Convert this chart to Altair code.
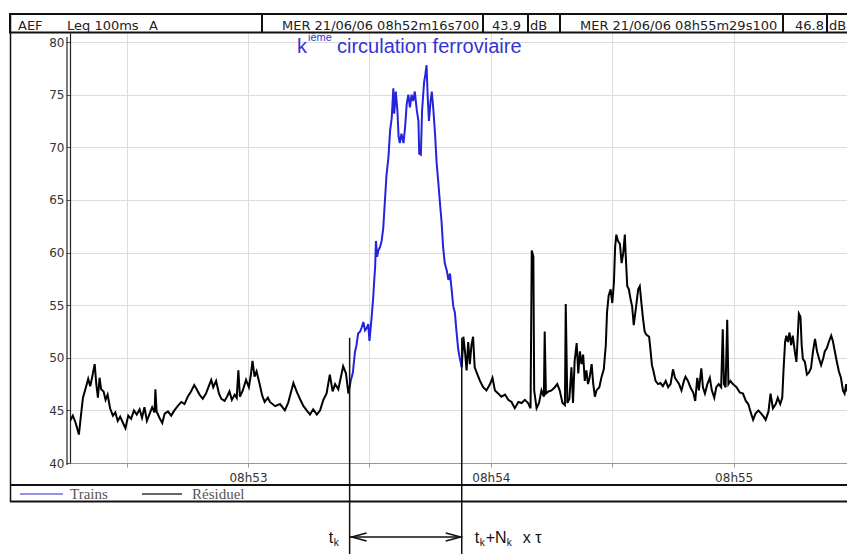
import altair as alt
import pandas as pd

# ---- data (time in seconds after 08h52m00s, level in dB(A)) ----
res1_t = [16.0, 16.7, 17.4, 18.2, 18.7, 19.2, 19.8, 20.5, 21.0, 21.5, 22.1, 22.5, 22.9, 23.3, 23.7,
          24.3, 24.8, 25.3, 25.9, 26.6, 27.2, 27.8, 28.4, 29.1, 29.7, 30.4, 31.1, 31.8, 32.5, 33.2,
          33.8, 34.4, 35.0, 35.6, 36.3, 36.9, 37.1, 37.4, 38.1, 38.8, 39.4, 40.2, 41.0, 41.8, 42.6,
          43.5, 44.3, 45.1, 45.9, 46.7, 47.3, 48.0, 48.8, 49.6, 50.3, 50.9, 51.4, 52.1, 52.8, 53.4,
          54.2, 54.8, 55.4, 56.0, 56.7, 57.2, 57.6, 58.0, 58.7, 59.5, 60.2, 60.7, 61.1, 61.6, 62.1,
          62.8, 63.5, 64.1, 64.9, 65.4, 66.7, 67.9, 69.1, 69.9, 71.2, 72.0, 72.8, 73.7, 74.5, 75.3,
          76.1, 77.0, 77.8, 78.6, 79.4, 80.2, 80.9, 81.5, 82.3, 82.9, 83.5, 84.2, 84.8, 85.3]
res1_db = [44.0, 44.5, 43.8, 42.7, 44.5, 46.2, 47.0, 48.0, 47.3, 48.2, 49.4, 47.5, 46.2, 48.1, 47.0,
           46.8, 46.0, 46.5, 45.2, 44.5, 44.8, 44.0, 44.4, 43.8, 43.3, 44.5, 44.2, 45.0, 44.6, 45.1,
           44.3, 45.3, 44.0, 44.6, 45.3, 44.8, 47.0, 44.9, 44.3, 43.8, 44.7, 44.9, 44.5, 45.0, 45.4,
           45.8, 45.6, 46.3, 46.8, 47.4, 47.0, 46.5, 46.1, 46.6, 47.3, 47.9, 47.2, 47.8, 46.6, 46.1,
           45.9, 46.3, 46.8, 46.0, 46.5, 46.2, 48.8, 46.3, 46.9, 47.9, 47.2, 48.4, 49.7, 48.2, 48.7,
           47.6, 46.4, 45.8, 46.2, 45.8, 45.4, 45.6, 45.0, 45.7, 47.6, 46.8, 46.1, 45.4, 45.0, 44.6,
           45.1, 44.6, 45.0, 46.0, 46.6, 48.4, 46.8, 47.5, 47.0, 48.1, 49.2, 48.5, 46.6, 47.7]

train_t = [85.3, 85.9, 86.4, 86.8, 87.2, 87.7, 88.1, 88.5, 88.9, 89.3, 89.7, 90.0, 90.5, 90.9, 91.2,
           91.4, 91.6, 91.9, 92.2, 92.6, 93.0, 93.4, 93.8, 94.2, 94.7, 95.1, 95.5, 95.9, 96.1, 96.3,
           96.5, 96.9, 97.2, 97.5, 97.9, 98.4, 98.8, 99.2, 99.6, 100.0, 100.4, 100.8, 101.2, 101.7,
           102.1, 102.3, 102.7, 103.0, 103.5, 103.8, 104.1, 104.4, 104.7, 105.1, 105.4, 105.8, 106.2,
           106.6, 107.0, 107.4, 107.8, 108.2, 108.6, 109.1, 109.5, 109.9, 110.3, 110.7, 111.1, 111.5,
           111.9, 112.3, 112.8]
train_db = [47.7, 48.6, 50.5, 51.2, 52.3, 52.5, 52.9, 53.4, 52.6, 52.8, 53.2, 51.6, 53.7, 55.6, 57.5,
            58.6, 61.1, 59.6, 60.2, 60.5, 61.1, 62.3, 64.8, 67.3, 69.1, 71.6, 72.8, 75.6, 73.2, 74.1,
            75.3, 73.5, 71.0, 70.4, 71.3, 70.4, 71.9, 74.1, 75.0, 73.8, 75.0, 74.4, 75.3, 73.5,
            72.5, 69.4, 69.3, 73.5, 76.2, 76.9, 77.8, 74.7, 72.5, 74.4, 75.3, 73.5, 71.3,
            68.5, 66.7, 64.8, 63.0, 60.5, 59.0, 58.3, 57.4, 58.0, 56.5, 54.9, 54.3, 52.5,
            50.9, 50.0, 49.1]

res2_t = [112.8, 113.2, 113.6, 114.0, 114.4, 114.8, 115.2, 115.6, 116.0, 116.6, 117.3, 118.1, 118.9,
          119.8, 120.4, 121.0, 121.8, 122.6, 123.5, 124.3, 125.1, 125.9, 126.8, 127.6, 128.4, 129.2,
          129.8, 130.1, 130.5, 130.7, 131.3, 131.9, 132.5, 133.1, 133.3, 133.6, 134.2, 135.0, 135.8,
          136.4, 137.0, 137.7, 138.3, 138.5, 138.9, 139.4, 139.9, 140.3, 140.7, 141.2, 141.6, 142.0,
          142.4, 142.8, 143.2, 143.6, 144.0, 144.4, 144.9, 145.3, 145.7, 146.1, 146.8, 147.3, 147.9,
          148.4, 148.7, 149.1, 149.6, 150.0, 150.4, 150.7, 151.0, 151.4, 151.9, 152.3, 152.7, 153.1,
          153.3, 153.7, 154.1, 154.5, 154.9, 155.3, 155.8, 156.4, 156.8, 157.2, 157.6, 158.0, 158.4,
          159.1, 159.4, 159.8, 160.2, 160.7, 161.3, 161.9, 162.5, 163.2, 163.8, 164.4, 165.0, 165.5,
          166.0, 166.5, 167.1, 167.7, 168.1, 168.7, 169.3, 170.0, 170.5, 171.0, 171.4, 172.0, 172.4,
          172.9, 173.5, 174.1, 174.6, 175.2, 175.7, 176.3, 176.9, 177.3, 177.6, 178.0, 178.4, 178.7,
          179.2, 179.8, 180.7, 181.5, 182.3, 183.0, 183.6, 184.3, 184.8, 185.4, 186.1, 186.8, 187.4,
          187.9, 188.6, 189.1, 189.7, 190.4, 190.9, 191.5, 192.0, 192.3, 192.7, 193.0, 193.4, 193.8,
          194.2, 194.6, 195.1, 195.5, 195.8, 196.1, 196.5, 196.8, 197.1, 197.6, 198.1, 198.6, 199.1,
          199.6, 200.1, 200.6, 201.1, 201.6, 202.1, 202.5, 203.0, 203.5, 204.1, 204.5, 205.0, 205.5,
          206.0, 206.5, 207.0, 207.4, 207.8, 208.0]
res2_db = [49.1, 52.0, 50.6, 48.8, 51.5, 49.4, 51.2, 52.0, 49.1, 48.5, 47.8, 47.2, 46.9,
           47.5, 48.1, 46.9, 46.6, 46.3, 46.5, 46.0, 45.8, 45.2, 45.8, 45.7, 46.0, 45.7,
           45.2, 60.2, 59.6, 46.9, 45.2, 45.7, 46.9, 46.3, 52.5, 46.6, 46.8, 46.9, 47.2,
           47.5, 46.9, 45.7, 45.5, 55.1, 45.7, 46.1, 49.1, 45.7, 49.7, 51.4, 48.5, 50.6,
           49.4, 50.3, 47.8, 48.8, 47.5, 48.1, 49.4, 47.5, 46.3, 46.9, 47.2, 48.1, 48.9,
           51.2, 54.3, 55.9, 56.5, 55.2, 57.1, 60.5, 61.7, 61.1, 60.8, 59.0, 59.9, 61.7,
           59.9, 56.8, 56.5, 55.6, 54.9, 53.1, 54.6, 56.5, 56.8, 55.2, 53.7, 52.5, 52.2,
           52.0, 50.9, 49.3, 48.7, 47.8, 47.5, 47.6, 47.3, 47.8, 47.2, 47.5, 48.9, 48.1,
           47.8, 47.5, 46.9, 47.8, 48.2, 47.8, 47.2, 46.7, 45.9, 48.1, 46.9, 49.0, 47.2,
           46.6, 47.5, 48.1, 46.9, 46.2, 47.2, 47.5, 47.2, 52.7, 47.5, 47.2, 53.6, 47.5,
           47.8, 47.5, 47.2, 46.7, 46.6, 45.9, 45.6, 44.7, 44.1, 44.7, 45.0, 44.7, 44.4,
           44.1, 44.9, 46.6, 45.2, 45.6, 46.2, 45.6, 46.2, 48.7, 51.5, 52.1, 51.5, 52.4,
           51.2, 52.1, 50.6, 49.6, 51.8, 54.2, 53.9, 51.2, 49.9, 49.6, 48.4, 48.6, 49.0,
           50.6, 51.8, 50.6, 49.9, 49.3, 49.9, 50.6, 50.9, 51.5, 52.1, 51.6, 50.6, 49.6,
           48.7, 48.1, 46.9, 46.6, 47.5, 46.8]

series_names = ["Trains", "Résiduel"]
series_colors = ["#2424de", "#000000"]
t_k = 85.1          # start of k-th train pass (s after 08h52)
t_end = 112.8       # t_k + N_k x tau
x_grid = [30, 60, 90, 120, 150, 180]
y_ticks = [40, 45, 50, 55, 60, 65, 70, 75, 80]

header_texts = ["AEF", "Leq 100ms", "A", "MER 21/06/06 08h52m16s700", "43.9", "dB",
                "MER 21/06/06 08h55m29s100", "46.8", "dB"]
header_x = [18, 67, 149, 282, 492, 530, 580, 795, 829]          # absolute page px
header_div = [262, 483, 528, 560, 783, 827]

# ---- table ----
rows = []
for t, v in zip(res1_t, res1_db):
    rows.append({"t": t, "db": v, "serie": "Résiduel", "seg": "r1"})
for t, v in zip(train_t, train_db):
    rows.append({"t": t, "db": v, "serie": "Trains", "seg": "tr"})
for t, v in zip(res2_t, res2_db):
    rows.append({"t": t, "db": v, "serie": "Résiduel", "seg": "r2"})
df = pd.DataFrame(rows)
one = pd.DataFrame({"k": [0]})   # single row for decoration marks

PL, PT = 70, 33          # plot origin on page
W, H = 777, 430

xs = alt.Scale(domain=[16, 208], nice=False, zero=False)
ys = alt.Scale(domain=[40, 80.86], nice=False, zero=False)

lines = alt.Chart(df).mark_line(strokeWidth=2.0, clip=True).encode(
    x=alt.X("t:Q", scale=xs, title=None,
            axis=alt.Axis(values=x_grid, grid=True, gridColor="#dcdcdc", gridWidth=1,
                          labelExpr="datum.value % 60 == 0 ? '08h5' + (2 + datum.value / 60) : ''",
                          labelFont="DejaVu Sans", labelFontSize=12, labelColor="#333",
                          labelPadding=5, tickSize=4, tickColor="#999", domainColor="#999",
                          labelFlush=False)),
    y=alt.Y("db:Q", scale=ys, title=None,
            axis=alt.Axis(values=y_ticks, grid=True, gridColor="#dcdcdc", gridWidth=1,
                          labelFont="DejaVu Sans", labelFontSize=12, labelColor="#333",
                          labelPadding=2, tickSize=4, tickColor="#555", domainColor="#222",
                          domainWidth=1.2)),
    color=alt.Color("serie:N", scale=alt.Scale(domain=series_names, range=series_colors), legend=None),
    detail="seg:N",
)

def vrule(xpx, y1, y2, w=1.5, color="#111"):
    return alt.Chart(one).mark_rule(color=color, strokeWidth=w).encode(
        x=alt.value(xpx - PL), y=alt.value(y1 - PT), y2=alt.value(y2 - PT))

def hrule(ypx, x1, x2, w=2, color="#111"):
    return alt.Chart(one).mark_rule(color=color, strokeWidth=w).encode(
        y=alt.value(ypx - PT), x=alt.value(x1 - PL), x2=alt.value(x2 - PL))

def text(s, xpx, ypx, size=13, font="DejaVu Sans", color="#222", align="left"):
    return alt.Chart(one).mark_text(text=s, font=font, fontSize=size, color=color, align=align,
                                    baseline="alphabetic").encode(
        x=alt.value(xpx - PL), y=alt.value(ypx - PT))

layers = [lines]

# second line of the double y axis
layers.append(vrule(67, 37, 465, w=1.2, color="#222"))

# header bar
layers.append(alt.Chart(one).mark_rect(fill="white", stroke="#111", strokeWidth=2).encode(
    x=alt.value(10 - PL), x2=alt.value(850 - PL), y=alt.value(14 - PT), y2=alt.value(32.5 - PT)))
for s, hx in zip(header_texts, header_x):
    layers.append(text(s, hx, 29.5))
for d in header_div:
    layers.append(vrule(d, 14, 32.5, w=2))

# frame: left border and legend box
layers.append(vrule(10.5, 14, 502, w=1.5))
layers.append(hrule(485, 10, 850))
layers.append(hrule(501.5, 10, 850))
layers.append(hrule(494, 20, 63, w=1.3, color="#7070d8"))
layers.append(text("Trains", 70, 499, size=15, font="Liberation Serif", color="#555"))
layers.append(hrule(494, 142, 182, w=1.3, color="#333"))
layers.append(text("Résiduel", 192, 499, size=15, font="Liberation Serif", color="#555"))

# title
TB = "#3434d6"
layers.append(text("k", 297, 53, size=20, font="Liberation Sans", color=TB))
layers.append(text("ième", 308, 41, size=11, font="Liberation Sans", color=TB))
layers.append(text("circulation ferroviaire", 337, 53, size=20, font="Liberation Sans", color=TB))

# annotation: t_k ... t_k + N_k x tau
marks_df = pd.DataFrame({"t": [t_k, t_end]})
layers.append(alt.Chart(marks_df).mark_rule(color="#111", strokeWidth=1.5).encode(
    x="t:Q", y=alt.datum(51.9), y2=alt.value(554 - PT)))
layers.append(alt.Chart(one).mark_rule(color="#111", strokeWidth=1.5).encode(
    x=alt.datum(t_k), x2=alt.datum(t_end), y=alt.value(537 - PT)))
layers.append(alt.Chart(one).mark_point(shape="M 3 -0.8 L 0 0 L 3 0.8", filled=False, size=100,
                                        color="#111", strokeWidth=1.5, opacity=1).encode(
    x=alt.datum(t_k), y=alt.value(537 - PT), xOffset=alt.value(2)))
layers.append(alt.Chart(one).mark_point(shape="M -3 -0.8 L 0 0 L -3 0.8", filled=False, size=100,
                                        color="#111", strokeWidth=1.5, opacity=1).encode(
    x=alt.datum(t_end), y=alt.value(537 - PT), xOffset=alt.value(-1)))

def ann(s, t, dx, ypx, size):
    return alt.Chart(one).mark_text(text=s, font="Liberation Sans", fontSize=size, color="#111",
                                    align="left", baseline="alphabetic", dx=dx).encode(
        x=alt.datum(t), y=alt.value(ypx - PT))

layers.append(ann("t", t_k, -21, 543, 16))
layers.append(ann("k", t_k, -16, 546, 10))
layers.append(ann("t", t_end, 13, 543, 16))
layers.append(ann("k", t_end, 18, 546, 10))
layers.append(ann("+N", t_end, 24, 543, 16))
layers.append(ann("k", t_end, 45, 546, 10))
layers.append(ann("x τ", t_end, 61, 543, 16))

chart = alt.layer(*layers).properties(
    width=W, height=H,
    padding={"left": PL, "top": PT, "right": 0, "bottom": 554 - PT - H},
    autosize=alt.AutoSizeParams(type="none"),
    background="white",
).configure_view(stroke=None)

chart.save("out.html", embed_options={"renderer": "svg", "actions": False})
